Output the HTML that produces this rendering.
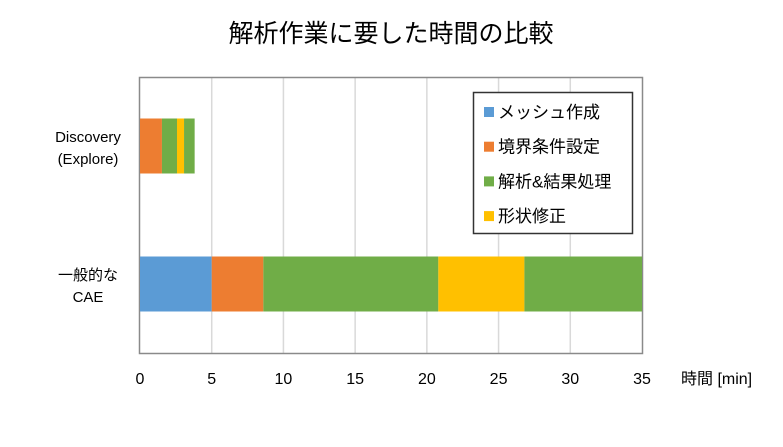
<!DOCTYPE html>
<html><head><meta charset="utf-8"><style>
body{margin:0;background:#fff;}
svg{display:block;font-family:"Liberation Sans","Noto Sans CJK JP",sans-serif;}
</style></head><body>
<svg id="chart" width="783" height="447" viewBox="0 0 783 447">
<text x="391" y="42" font-size="25" text-anchor="middle" fill="#000">解析作業に要した時間の比較</text>
<g id="grid"></g>
<rect x="139.5" y="77.5" width="503" height="276" fill="none" stroke="#8a8a8a" stroke-width="1.5"/>
<g id="bars"></g>
<g id="xticks"></g>
<g id="ylabels"></g>
<text x="681" y="384" font-size="16" fill="#000">時間 [min]</text>
<g id="legend"></g>
</svg>
<script>
const categories=["Discovery\n(Explore)","一般的な\nCAE"];
const seriesNames=["メッシュ作成","境界条件設定","解析&結果処理","形状修正","解析&結果処理"];
const seriesColors=["#5b9bd5","#ed7d31","#70ad47","#ffc000","#70ad47"];
const discoveryValues=[0,1.53,1.05,0.49,0.74];
const caeValues=[5.0,3.6,12.2,6.0,8.2];
const tickLabels=[0,5,10,15,20,25,30,35];
const NS="http://www.w3.org/2000/svg";
const x0=140,x1=642,xmax=35,yTop=77,yBot=353;
const xs=v=>x0+(x1-x0)*v/xmax;
const band=(yBot-yTop)/categories.length;
const yc=i=>yTop+band*(i+0.5);
const barH=55;
function mk(t,a,p){const e=document.createElementNS(NS,t);for(const k in a)e.setAttribute(k,a[k]);(p||document.getElementById('chart')).appendChild(e);return e;}
const grid=document.getElementById('grid'),xt=document.getElementById('xticks');
tickLabels.forEach(v=>{
 if(v>0&&v<xmax){const l=mk('line',{x1:xs(v),x2:xs(v),y1:yTop,y2:yBot,stroke:'#d9d9d9','stroke-width':1.5},grid);
 
 }
 const t=mk('text',{x:xs(v),y:384,'font-size':16,'text-anchor':'middle',fill:'#000'},xt);t.textContent=v;
 
 
});
const bars=document.getElementById('bars'),yl=document.getElementById('ylabels');
[discoveryValues,caeValues].forEach((vals,i)=>{
 let acc=0;
 vals.forEach((v,j)=>{
  if(v>0){const r=mk('rect',{x:xs(acc),y:yc(i)-barH/2,width:xs(acc+v)-xs(acc),height:barH,fill:seriesColors[j]},bars);
  
  }
  acc+=v;
 });
 const lines=categories[i].split('\n');
 lines.forEach((s,k)=>{const t=mk('text',{x:88,y:yc(i)-4+k*22,'font-size':15,'text-anchor':'middle',fill:'#000'},yl);t.textContent=s;
 
 });
});
const lg=document.getElementById('legend');
const lb=mk('rect',{x:473.5,y:92.5,width:159,height:141,fill:'#fff',stroke:'#333','stroke-width':1.5},lg);


for(let j=0;j<4;j++){
 const y=112+j*34.7;
 const s=mk('rect',{x:484,y:y-5,width:10,height:10,fill:seriesColors[j]},lg);
 
 
 const t=mk('text',{x:498,y:y+6,'font-size':17,fill:'#000'},lg);t.textContent=seriesNames[j];
 
 
}
</script>
</body></html>
